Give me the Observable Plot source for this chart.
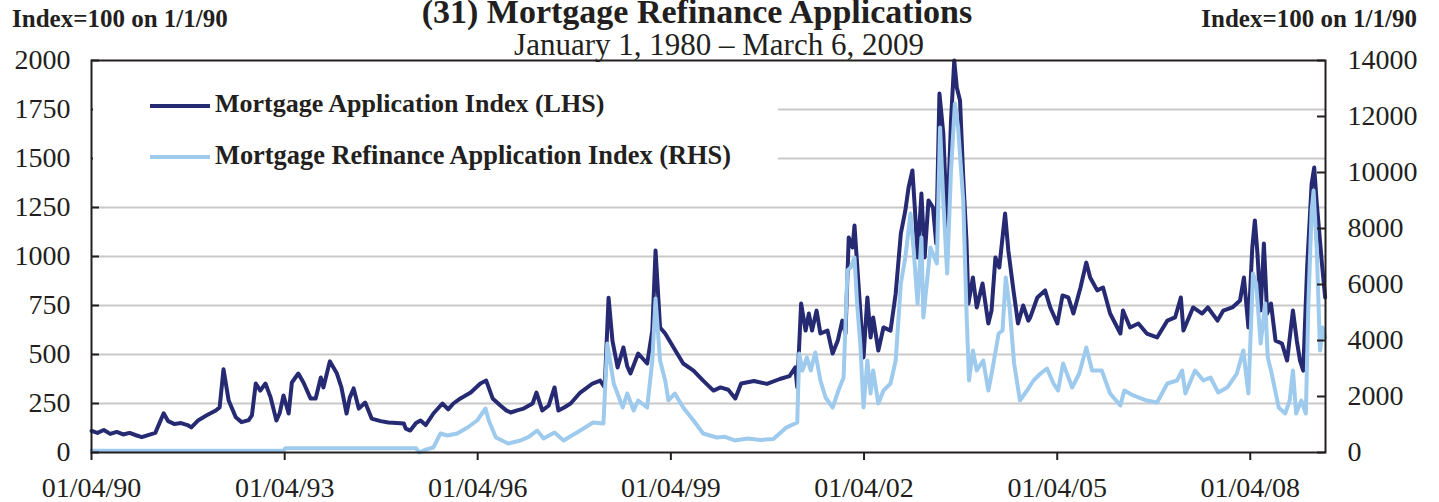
<!DOCTYPE html>
<html>
<head>
<meta charset="utf-8">
<script src="https://cdn.jsdelivr.net/npm/d3@7"></script>
<script src="https://cdn.jsdelivr.net/npm/@observablehq/plot@0.6"></script>
<style>
  body { margin: 0; background: #fff; }
  #wrap { position: relative; width: 1439px; height: 502px; overflow: hidden;
          font-family: "Liberation Serif", "Times New Roman", serif; color: #231f20; }
  .t { position: absolute; white-space: nowrap; line-height: 1; }
  .b { font-weight: bold; }
  #chart svg { display: block; }
</style>
</head>
<body>
<div id="wrap">
  <div id="chart"></div>
  <div id="legendBox" style="position:absolute;left:93px;top:63px;width:685px;height:124px;background:#fff;"></div>
  <div style="position:absolute;left:150px;top:104px;width:60px;height:4px;background:#262a73;"></div>
  <div class="t b" id="leg1" style="left:215px;top:91px;font-size:26px;">Mortgage Application Index (LHS)</div>
  <div style="position:absolute;left:150px;top:155px;width:60px;height:4px;background:#9ecaed;"></div>
  <div class="t b" id="leg2" style="left:215px;top:142px;font-size:26.4px;">Mortgage Refinance Application Index (RHS)</div>
  <div class="t b" style="left:0;width:1394px;text-align:center;top:0;font-size:34px;line-height:0.7;">(31) Mortgage Refinance Applications</div>
  <div class="t" style="left:0;width:1438px;text-align:center;top:29px;font-size:31px;">January 1, 1980 – March 6, 2009</div>
  <div class="t b" style="left:12px;top:6px;font-size:25px;">Index=100 on 1/1/90</div>
  <div class="t b" style="right:22px;top:6px;font-size:25px;">Index=100 on 1/1/90</div>
</div>
<script>
// Mortgage Application Index (LHS), decimal years and index values
const appYears = [1990.01,1990.1,1990.2,1990.3,1990.4,1990.5,1990.6,1990.7,1990.79,1990.9,1991.0,1991.13,1991.2,1991.3,1991.4,1991.5,1991.56,1991.67,1991.8,1991.94,
1992.0,1992.06,1992.14,1992.25,1992.34,1992.45,1992.5,1992.56,1992.63,1992.71,1992.79,1992.88,1992.93,1992.99,1993.07,1993.12,1993.22,1993.3,1993.41,1993.49,
1993.57,1993.61,1993.71,1993.82,1993.89,1993.97,1994.02,1994.08,1994.16,1994.26,1994.36,1994.5,1994.62,1994.75,1994.86,1994.89,1994.96,1995.05,1995.12,1995.2,
1995.32,1995.46,1995.55,1995.63,1995.74,1995.9,1996.05,1996.14,1996.24,1996.36,1996.45,1996.52,1996.62,1996.72,1996.86,1996.92,1997.01,1997.11,1997.2,1997.26,
1997.35,1997.45,1997.6,1997.7,1997.79,1997.91,1997.98,1998.04,1998.1,1998.18,1998.27,1998.33,1998.38,1998.5,1998.64,1998.72,1998.77,1998.84,1998.92,1999.05,
1999.2,1999.36,1999.51,1999.67,1999.78,1999.9,2000.01,2000.1,2000.3,2000.5,2000.7,2000.85,2000.94,2000.97,2001.03,2001.1,2001.15,2001.2,2001.27,2001.33,
2001.44,2001.52,2001.6,2001.67,2001.72,2001.77,2001.83,2001.86,2001.9,2001.95,2002.0,2002.06,2002.11,2002.15,2002.23,2002.31,2002.42,2002.5,2002.58,2002.65,
2002.7,2002.76,2002.8,2002.84,2002.9,2002.95,2003.01,2003.08,2003.13,2003.18,2003.24,2003.3,2003.36,2003.41,2003.45,2003.5,2003.55,2003.6,2003.63,2003.7,
2003.76,2003.85,2003.94,2003.99,2004.05,2004.11,2004.2,2004.25,2004.33,2004.4,2004.48,2004.56,2004.59,2004.7,2004.82,2004.9,2005.01,2005.09,2005.18,2005.26,
2005.37,2005.46,2005.52,2005.63,2005.72,2005.83,2005.99,2006.03,2006.14,2006.27,2006.4,2006.56,2006.72,2006.84,2006.93,2006.97,2007.12,2007.26,2007.35,2007.5,
2007.59,2007.73,2007.85,2007.91,2007.98,2008.04,2008.08,2008.12,2008.17,2008.22,2008.27,2008.33,2008.4,2008.5,2008.58,2008.67,2008.73,2008.78,2008.83,2008.89,
2008.96,2009.0,2009.04,2009.12,2009.17];
const appIndex = [110,100,115,95,105,92,100,88,78,90,100,200,160,145,150,140,128,165,190,214,
230,425,265,180,155,165,189,352,316,352,281,163,200,291,199,357,403,357,276,276,
383,332,465,403,332,199,280,327,224,255,173,160,153,150,148,122,112,150,163,140,
199,250,220,250,276,306,352,367,276,240,215,204,215,224,250,306,214,240,332,214,
230,250,306,330,352,367,332,790,571,434,536,440,403,505,454,622,1030,638,607,536,
454,418,367,316,332,320,276,352,365,350,375,390,434,332,760,622,709,622,724,607,
622,505,571,673,607,1097,1046,1158,964,724,485,791,587,689,520,638,622,811,1117,1235,
1352,1439,1235,995,1321,995,1286,1250,1066,1832,1628,1148,1694,2000,1862,1796,1403,1082,760,893,
740,862,658,724,995,944,1219,1031,827,658,750,673,689,791,827,740,658,801,791,709,
842,969,893,827,842,709,607,724,638,658,607,587,673,689,791,622,740,709,740,673,
724,740,776,893,638,1046,1184,1015,724,1066,709,760,571,556,469,724,571,469,418,944,
1372,1454,1270,964,791];

// Mortgage Refinance Application Index (RHS), decimal years and index values
const refiYears = [1990.01,1990.5,1991.0,1992.0,1992.99,1993.02,1994.0,1995.05,1995.1,1995.2,1995.32,1995.43,1995.54,1995.69,1995.85,1996.0,1996.13,1996.18,1996.29,1996.48,
1996.67,1996.8,1996.93,1997.03,1997.2,1997.34,1997.6,1997.8,1997.96,1998.02,1998.12,1998.26,1998.33,1998.43,1998.5,1998.64,1998.72,1998.77,1998.84,1998.92,
1998.97,1999.07,1999.2,1999.36,1999.51,1999.72,1999.85,2000.0,2000.2,2000.4,2000.6,2000.8,2000.97,2001.0,2001.05,2001.12,2001.18,2001.25,2001.33,2001.41,
2001.52,2001.61,2001.69,2001.75,2001.8,2001.86,2001.9,2001.95,2002.0,2002.06,2002.11,2002.15,2002.23,2002.31,2002.42,2002.5,2002.58,2002.65,2002.73,2002.78,
2002.84,2002.9,2002.93,2003.04,2003.14,2003.19,2003.24,2003.3,2003.36,2003.42,2003.47,2003.55,2003.6,2003.64,2003.7,2003.76,2003.86,2003.94,2004.0,2004.1,
2004.16,2004.21,2004.27,2004.34,2004.43,2004.54,2004.64,2004.75,2004.85,2004.95,2005.02,2005.1,2005.24,2005.35,2005.46,2005.55,2005.7,2005.83,2005.99,2006.05,
2006.19,2006.4,2006.56,2006.72,2006.87,2006.95,2007.0,2007.15,2007.28,2007.39,2007.51,2007.65,2007.8,2007.9,2007.98,2008.05,2008.1,2008.17,2008.24,2008.28,
2008.33,2008.45,2008.55,2008.62,2008.67,2008.72,2008.8,2008.87,2008.91,2008.96,2008.99,2009.04,2009.09,2009.13,2009.17];
const refiIndex = [60,60,60,60,60,150,150,150,0,100,180,680,607,680,893,1143,1571,1143,536,321,
429,560,786,500,714,429,786,1071,1036,3893,2464,1607,2107,1500,1857,1607,3286,5500,3286,2571,
1857,2107,1607,1143,680,536,560,430,500,450,480,890,1070,3536,2928,3393,2928,3571,2571,1964,
1607,2214,2678,6500,6607,6964,5321,3893,1607,3286,2107,2928,1750,2214,2464,3286,6036,6964,8536,7214,
5321,7679,4821,7321,6750,11607,9000,6393,10071,12464,11607,9000,5071,2571,3643,2928,3286,2214,2928,4250,
4357,6250,5179,3179,1857,2214,2571,2821,3000,2464,2214,3179,2321,2821,3750,2928,2928,2107,1679,2214,
2036,1857,1786,2464,2571,2928,2107,2928,2571,2678,2143,2321,2821,3643,2107,6393,6036,3893,5321,3393,
2928,1607,1393,1857,2928,1393,1857,1393,5321,8643,9357,7214,3643,4464,4107];

// Axis ticks
const leftTicks = [0,250,500,750,1000,1250,1500,1750,2000];
const rightTicks = [0,2000,4000,6000,8000,10000,12000,14000];
const xTickLabels = ["1990-01-04","1993-01-04","1996-01-04","1999-01-04","2002-01-04","2005-01-04","2008-01-04"];
const xDomain = ["1990-01-04","2009-03-06"];

const toDate = y => {
  const yr = Math.floor(y);
  const s = Date.UTC(yr, 0, 1), e = Date.UTC(yr + 1, 0, 1);
  return new Date(s + (y - yr) * (e - s));
};
const ratio = 14000 / 2000;
const app = appYears.map((y, i) => ({date: toDate(y), value: appIndex[i]}));
const refi = refiYears.map((y, i) => ({date: toDate(y), value: refiIndex[i]}));
const xTicks = xTickLabels.map(s => new Date(s + "T00:00:00Z"));

const W = 1439, ML = 91, MR = 114;
const plotW = W - ML - MR;
const ink = "#231f20";

const chart = Plot.plot({
  width: W, height: 502,
  marginLeft: ML, marginRight: MR, marginTop: 60, marginBottom: 50,
  style: {fontFamily: "'Liberation Serif', 'Times New Roman', serif", fontSize: "28px", color: ink, background: "transparent"},
  x: {type: "utc", domain: xDomain.map(s => new Date(s + "T00:00:00Z"))},
  y: {domain: [0, 2000]},
  marks: [
    Plot.ruleY(leftTicks.filter(v => v > 0 && v < 2000), {stroke: "#c9c9c9", strokeWidth: 2}),
    Plot.lineY(app, {x: "date", y: "value", stroke: "#262a73", strokeWidth: 4, strokeLinejoin: "round"}),
    Plot.lineY(refi, {x: "date", y: d => d.value / ratio, stroke: "#9ecaed", strokeWidth: 4, strokeLinejoin: "round"}),
    Plot.frame({stroke: ink, strokeWidth: 2}),
    Plot.ruleY(leftTicks, {stroke: ink, strokeWidth: 2, insetRight: plotW - 8}),
    Plot.ruleY(rightTicks, {y: d => d / ratio, stroke: ink, strokeWidth: 2, insetLeft: plotW - 8}),
    Plot.axisY(leftTicks, {anchor: "left", label: null, tickSize: 0, tickPadding: 21, tickFormat: d => String(d), fontSize: 28}),
    Plot.axisY(rightTicks.map(v => v / ratio), {anchor: "right", label: null, tickSize: 0, tickPadding: 22, tickFormat: d => String(Math.round(d * ratio)), fontSize: 28}),
    Plot.axisX(xTicks, {anchor: "bottom", label: null, tickSize: 8, tickPadding: 17, strokeWidth: 2, tickFormat: d3.utcFormat("%m/%d/%y"), fontSize: 28})
  ]
});
document.getElementById("chart").appendChild(chart);
</script>
</body>
</html>
